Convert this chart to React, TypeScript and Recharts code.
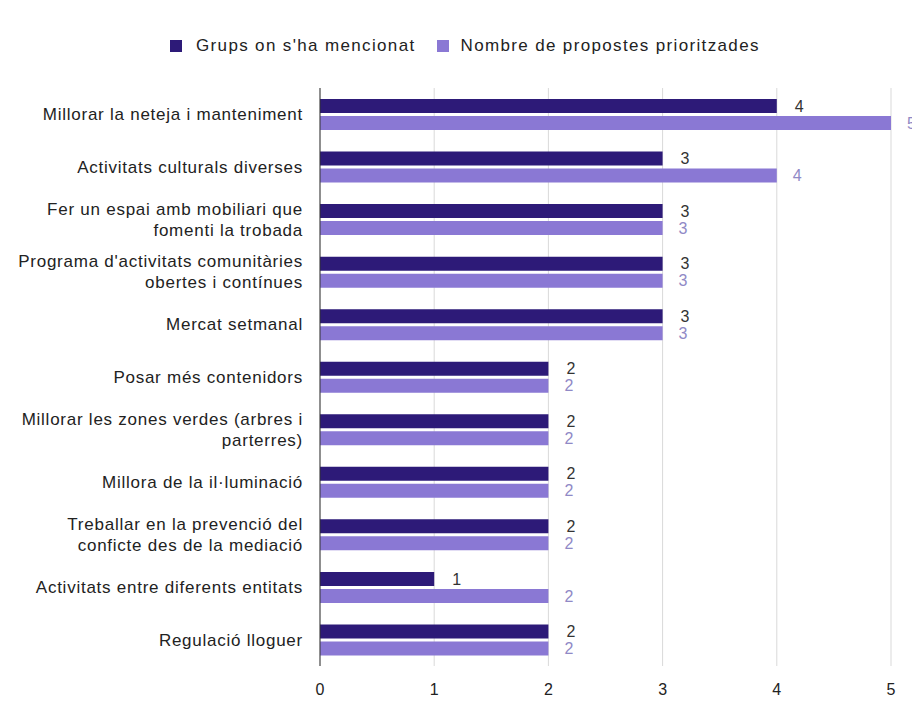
import { Bar, BarChart, CartesianGrid, LabelList, XAxis, YAxis } from "recharts"

const categories = [
  "Millorar la neteja i manteniment",
  "Activitats culturals diverses",
  "Fer un espai amb mobiliari que|fomenti la trobada",
  "Programa d'activitats comunitàries|obertes i contínues",
  "Mercat setmanal",
  "Posar més contenidors",
  "Millorar les zones verdes (arbres i|parterres)",
  "Millora de la il·luminació",
  "Treballar en la prevenció del|conficte des de la mediació",
  "Activitats entre diferents entitats",
  "Regulació lloguer",
]
const grups = [4, 3, 3, 3, 3, 2, 2, 2, 2, 1, 2]
const propostes = [5, 4, 3, 3, 3, 2, 2, 2, 2, 2, 2]
const xTicks = [0, 1, 2, 3, 4, 5]

const DARK = "#2d1a78"
const LIGHT = "#8a78d4"
const FONT = "'Liberation Sans', Arial, sans-serif"

const data = categories.map((name, i) => ({ name, grups: grups[i], propostes: propostes[i] }))

const CategoryTick = (props: any) => {
  const { x, y, payload } = props
  const lines = String(payload.value).split("|")
  const lh = 21
  const start = -((lines.length - 1) * lh) / 2
  return (
    <text x={x - 9} y={y} textAnchor="end" fill="#222" fontSize={17} letterSpacing={0.75} fontFamily={FONT}>
      {lines.map((l, i) => (
        <tspan key={i} x={x - 9} y={y + start + i * lh} dy="0.35em">
          {l}
        </tspan>
      ))}
    </text>
  )
}

export default function App() {
  return (
    <div style={{ position: "absolute", left: 0, top: 0, width: 912, height: 704, background: "#fff", fontFamily: FONT }}>
      <div style={{ position: "absolute", top: 36, left: 170, display: "flex", fontSize: 17, letterSpacing: 1.35, color: "#222" }}>
        <span style={{ display: "flex", alignItems: "center", marginRight: 21 }}>
          <span style={{ width: 12, height: 12, background: DARK, marginRight: 14, display: "inline-block" }} />
          Grups on s'ha mencionat
        </span>
        <span style={{ display: "flex", alignItems: "center" }}>
          <span style={{ width: 12, height: 12, background: LIGHT, marginRight: 12, display: "inline-block" }} />
          Nombre de propostes prioritzades
        </span>
      </div>
      <BarChart
        width={912}
        height={704}
        data={data}
        layout="vertical"
        margin={{ top: 88, right: 21, left: 0, bottom: 8 }}
        barSize={14}
        barGap={3}
        barCategoryGap={12}
        style={{ fontFamily: FONT }}
      >
        <CartesianGrid horizontal={false} stroke="#d9d9d9" />
        <XAxis
          type="number"
          domain={[0, 5]}
          ticks={xTicks}
          axisLine={false}
          tickLine={false}
          tick={{ fill: "#222", fontSize: 16, fontFamily: FONT }}
          height={30}
          tickMargin={12}
        />
        <YAxis
          type="category"
          dataKey="name"
          width={320}
          tick={<CategoryTick />}
          tickLine={false}
          axisLine={{ stroke: "#333" }}
          interval={0}
        />
        <Bar dataKey="grups" fill={DARK} isAnimationActive={false}>
          <LabelList dataKey="grups" position="right" offset={18} fill="#333" fontSize={16} fontFamily={FONT} />
        </Bar>
        <Bar dataKey="propostes" fill={LIGHT} isAnimationActive={false}>
          <LabelList dataKey="propostes" position="right" offset={16} fill="#9089c6" fontSize={16} fontFamily={FONT} />
        </Bar>
      </BarChart>
    </div>
  )
}
